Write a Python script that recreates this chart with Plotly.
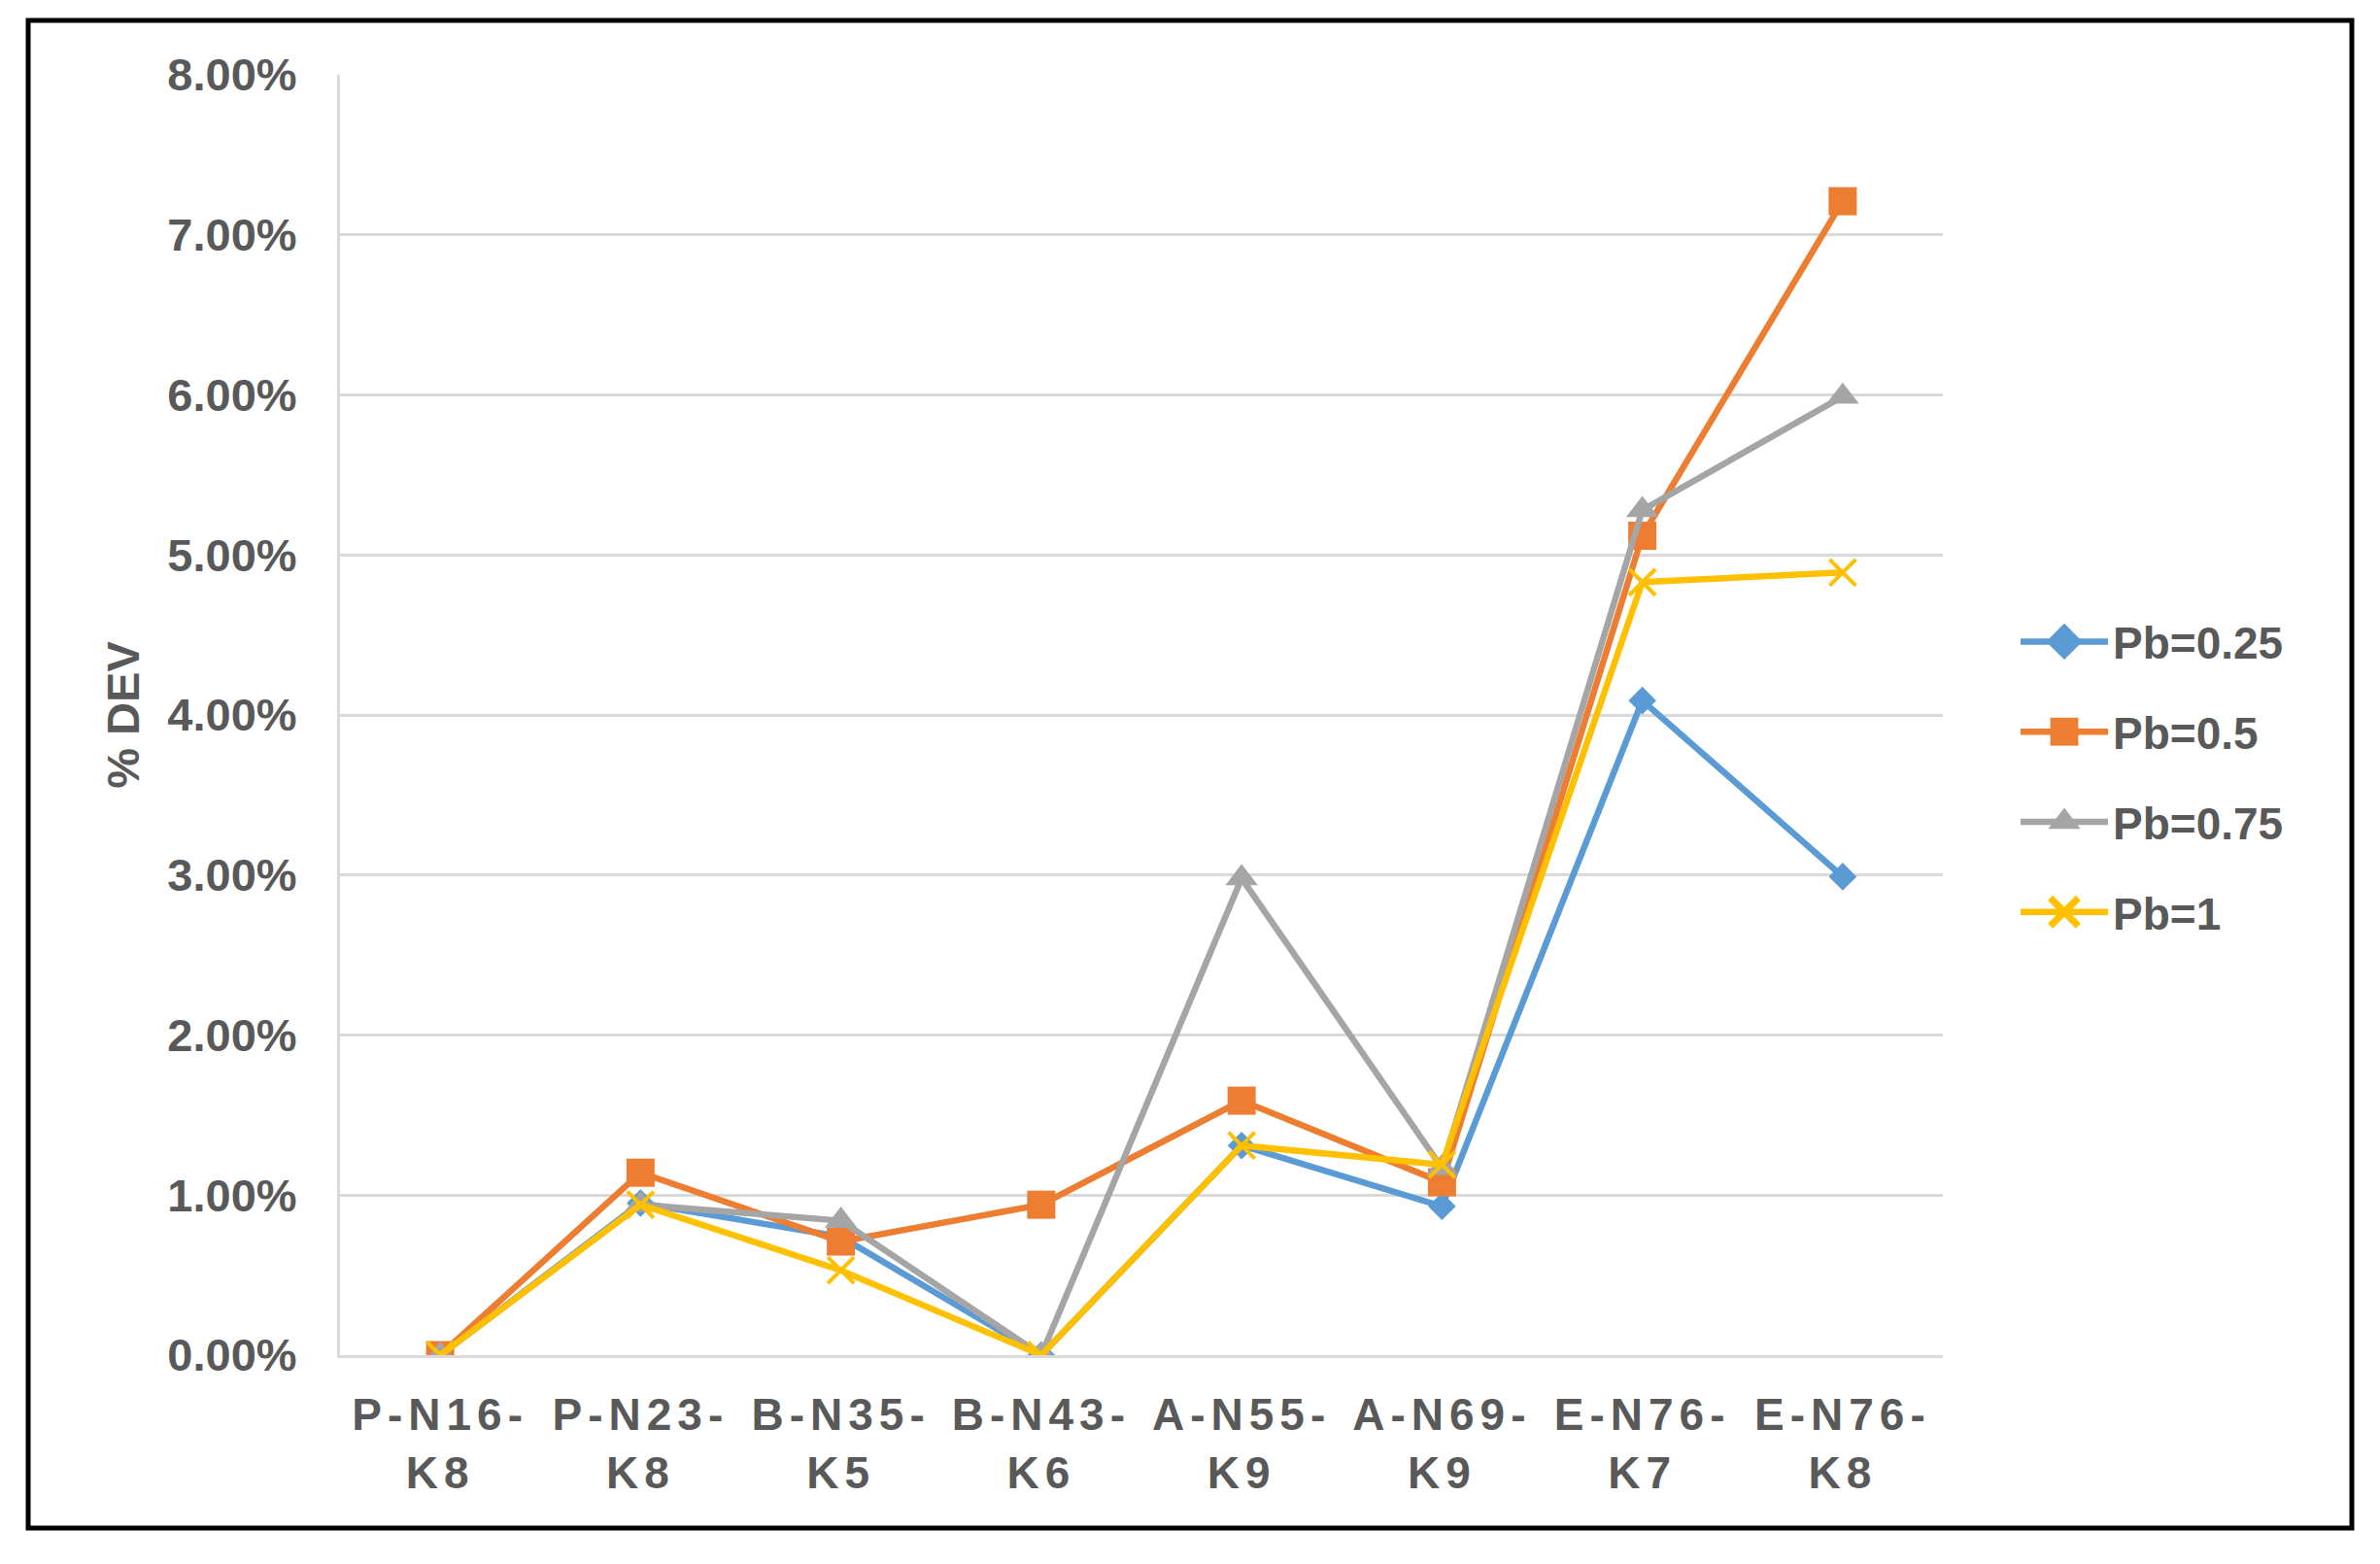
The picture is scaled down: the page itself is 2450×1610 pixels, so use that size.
import plotly.graph_objects as go

categories = ["P-N16-K8", "P-N23-K8", "B-N35-K5", "B-N43-K6",
              "A-N55-K9", "A-N69-K9", "E-N76-K7", "E-N76-K8"]
tick_labels = ["P-N16-<br>K8", "P-N23-<br>K8", "B-N35-<br>K5", "B-N43-<br>K6",
               "A-N55-<br>K9", "A-N69-<br>K9", "E-N76-<br>K7", "E-N76-<br>K8"]

pb_025 = [0.0, 0.0095, 0.0074, 0.0, 0.0131, 0.0093, 0.0409, 0.0299]
pb_050 = [0.0, 0.0114, 0.0071, 0.0094, 0.0159, 0.0108, 0.0512, 0.0721]
pb_075 = [0.0, 0.0094, 0.0084, 0.0, 0.0298, 0.0117, 0.0528, 0.0599]
pb_100 = [0.0, 0.0094, 0.0053, 0.0, 0.0131, 0.0119, 0.0483, 0.0489]

y_ticks = [0, 0.01, 0.02, 0.03, 0.04, 0.05, 0.06, 0.07, 0.08]

FONT = "Liberation Sans, Arial, Helvetica, sans-serif"
TXT = "#595959"
GRID = "#D9D9D9"

series = [
    ("Pb=0.25", pb_025, "#5B9BD5", dict(symbol="diamond", size=22, color="#5B9BD5")),
    ("Pb=0.5", pb_050, "#ED7D31", dict(symbol="square", size=29, color="#ED7D31")),
    ("Pb=0.75", pb_075, "#A5A5A5", dict(symbol="triangle-up", size=29, color="#A5A5A5")),
    ("Pb=1", pb_100, "#FFC000", dict(symbol="x-thin-open", size=27, color="#FFC000",
                                      line=dict(color="#FFC000", width=4))),
]

fig = go.Figure()
for i, (name, vals, col, mk) in enumerate(series):
    fig.add_trace(go.Scatter(
        x=categories, y=vals, name=name, mode="lines+markers",
        line=dict(color=col, width=6.5), marker=mk,
        legendgroup="g%d" % i,
    ))

W, H = 2450, 1610
L, R, T, B = 350, 450, 77, 215
pw, ph = W - L - R, H - T - B

def px(x):
    return (x - L) / pw

def py(y):
    return (H - B - y) / ph

fig.update_layout(
    width=W, height=H,
    margin=dict(l=L, r=R, t=T, b=B, pad=0),
    paper_bgcolor="white", plot_bgcolor="white",
    font=dict(family=FONT, size=47, color=TXT, weight="bold"),
    showlegend=True,
    legend=dict(
        x=px(2075), xanchor="left", y=py(800), yanchor="middle",
        font=dict(family=FONT, size=46, color=TXT, weight="bold"),
        traceorder="grouped", tracegroupgap=30, itemwidth=90,
        bgcolor="rgba(0,0,0,0)",
    ),
    xaxis=dict(
        type="category", range=[-0.5, len(categories) - 0.5],
        tickmode="array", tickvals=categories, ticktext=tick_labels,
        showgrid=False, zeroline=False,
        showline=True, linecolor=GRID, linewidth=3,
        ticks="", ticklabelstandoff=19,
        tickfont=dict(family=FONT, size=46, color=TXT, weight="bold"),
    ),
    yaxis=dict(
        range=[0, 0.08], tickmode="array", tickvals=y_ticks, tickformat=".2%",
        showgrid=True, gridcolor=GRID, gridwidth=3,
        zeroline=False, showline=True, linecolor=GRID, linewidth=3,
        ticks="", ticklabelstandoff=32,
        tickfont=dict(family=FONT, size=47, color=TXT, weight="bold"),
        title=dict(text="% DEV", standoff=14,
                   font=dict(family=FONT, size=47, color=TXT, weight="bold")),
    ),
    shapes=[dict(type="rect", xref="paper", yref="paper",
                 x0=px(29), x1=px(2421), y0=py(1573), y1=py(21),
                 line=dict(color="black", width=5), fillcolor="rgba(0,0,0,0)",
                 layer="above")],
)

post = """
document.body.style.margin='0';
document.querySelectorAll('.xtick text').forEach(function(e){e.style.letterSpacing='6px';});
document.querySelectorAll('.legend .scatterpts').forEach(function(p){
  var t = p.getAttribute('transform') || '';
  p.setAttribute('transform', t + ' scale(1.8)');
});
"""
fig.write_html("out.html", post_script=post, config={"displayModeBar": False})
